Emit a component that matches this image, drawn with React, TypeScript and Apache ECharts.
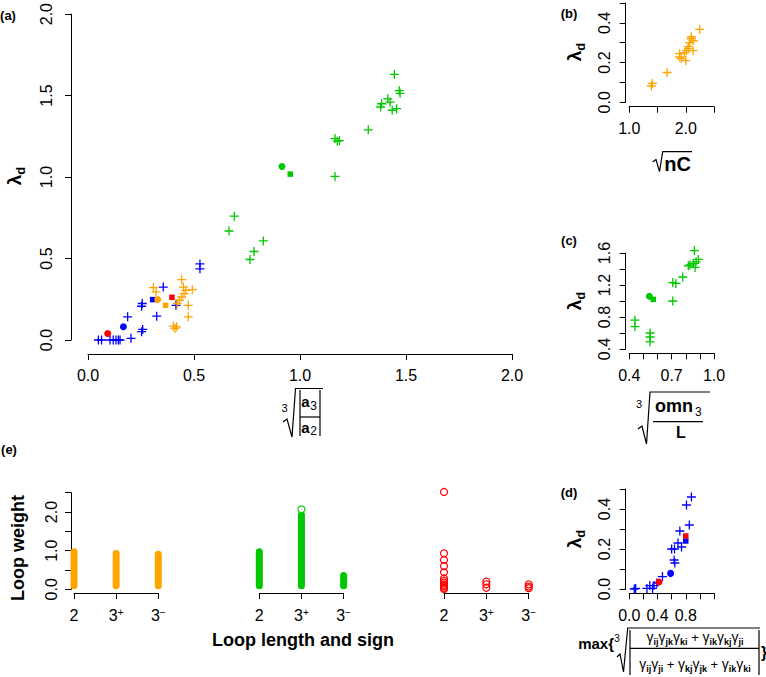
import React, { useEffect, useRef } from 'react';
import * as echarts from 'echarts';

const FONT = '"Liberation Sans", Arial, Helvetica, sans-serif';
const BLUE = '#0000FF';
const RED = '#FF0000';
const ORANGE = '#FFA500';
const GREEN = '#00C800';

// ---------- Panel (a): x = cube root |a3/a2|, y = lambda_d ----------
const aBlueCross: number[][] = [
  [0.528, 0.467], [0.528, 0.437], [0.355, 0.325], [0.256, 0.224], [0.253, 0.207],
  [0.415, 0.213], [0.324, 0.146], [0.187, 0.142], [0.258, 0.065], [0.253, 0.051],
  [0.203, 0.01], [0.049, 0], [0.064, 0], [0.104, 0], [0.119, 0], [0.132, 0],
  [0.143, 0], [0.151, 0],
];
const aBlueCircle = [[0.167, 0.081]];
const aBlueSquare = [[0.305, 0.248]];
const aRedCircle = [[0.093, 0.04]];
const aRedSquare = [[0.396, 0.262]];
const aOrangeCross: number[][] = [
  [0.308, 0.321], [0.321, 0.295], [0.442, 0.37], [0.45, 0.325], [0.462, 0.305],
  [0.492, 0.309], [0.453, 0.285], [0.442, 0.264], [0.431, 0.244], [0.421, 0.224],
  [0.473, 0.213], [0.403, 0.085], [0.418, 0.081], [0.41, 0.071], [0.473, 0.142],
];
const aOrangeCircle = [[0.329, 0.248]];
const aOrangeSquare = [[0.366, 0.213]];
const aGreenCross: number[][] = [
  [1.445, 1.63], [1.468, 1.53], [1.472, 1.514], [1.414, 1.48], [1.425, 1.46],
  [1.385, 1.45], [1.38, 1.43], [1.435, 1.41], [1.456, 1.42], [1.322, 1.29],
  [1.165, 1.236], [1.176, 1.22], [1.186, 1.224], [1.165, 1.004], [0.69, 0.76],
  [0.665, 0.669], [0.827, 0.608], [0.783, 0.543], [0.764, 0.494],
];
const aGreenCircle = [[0.915, 1.065]];
const aGreenSquare = [[0.954, 1.018]];

// ---------- Panel (b): x = sqrt(nC) ----------
const bOrangeCross: number[][] = [
  [2.247, 0.367], [2.1, 0.33], [2.13, 0.31], [2.07, 0.3], [2.04, 0.28], [2.13, 0.26],
  [2.01, 0.26], [1.98, 0.25], [1.89, 0.245], [1.89, 0.228], [1.92, 0.22], [2.0, 0.21],
  [1.67, 0.15], [1.41, 0.095], [1.39, 0.082], [2.1, 0.32], [2.05, 0.27],
];

// ---------- Panel (c): x = cube root omn3/L ----------
const cGreenCross: number[][] = [
  [0.861, 1.63], [0.889, 1.52], [0.873, 1.49], [0.854, 1.47], [0.83, 1.45], [0.818, 1.44],
  [0.866, 1.42], [0.779, 1.3], [0.708, 1.23], [0.73, 1.22], [0.708, 1.0], [0.44, 0.76],
  [0.44, 0.68], [0.547, 0.6], [0.547, 0.55], [0.547, 0.49],
];
const cGreenCircle = [[0.542, 1.06]];
const cGreenSquare = [[0.57, 1.02]];

// ---------- Panel (d): x = max{...} ----------
const dBlueCross: number[][] = [
  [0.88, 0.46], [0.81, 0.42], [0.85, 0.32], [0.716, 0.29], [0.69, 0.23], [0.74, 0.21],
  [0.6, 0.2], [0.64, 0.2], [0.635, 0.145], [0.645, 0.13], [0.47, 0.062], [0.39, 0.03],
  [0.35, 0.017], [0.29, 0.017], [0.33, 0.003], [0.25, 0.003], [0.09, 0.003], [0.07, 0.0],
];
const dBlueCircle = [[0.585, 0.078]];
const dBlueSquare = [[0.8, 0.24]];
const dRedCircle = [[0.42, 0.035]];
const dRedSquare = [[0.8, 0.265]];

// ---------- Panel (e): loop weight by loop length and sign ----------
const eCategories = ['2', '3+', '3-'];
const eOrangeTop = [1.06, 1.02, 1.0];
const eGreenTop = [1.06, 2.02, 0.45];
const eGreenTopCircle = [[2, 2.07]];
const eRed2 = [2.52, 0.93, 0.76, 0.6, 0.44, 0.28, 0.22, 0.17, 0.12, 0.08, 0.04, 0.01];
const eRed3p = [0.2, 0.13, 0.04];
const eRed3m = [0.13, 0.07, 0.03];

// ---------- tick labels ----------
const aTickLabels = [0, 0.5, 1, 1.5, 2];
const bXLabels = [1.0, 2.0];
const bYLabels = [0, 0.2, 0.4];
const cXLabels = [0.4, 0.7, 1.0];
const cYLabels = [0.4, 0.8, 1.2, 1.6];
const dXLabels = [0, 0.4, 0.8];
const dYLabels = [0, 0.2, 0.4];
const eYLabels = [0, 1, 2];

const CROSS = 'path://M0,4.5L9,4.5M4.5,0L4.5,9';

const only = (list: number[]) => (v: number) =>
  list.some((t) => Math.abs(t - v) < 1e-6) ? v.toFixed(1) : '';

const axisBase = {
  type: 'value',
  axisLine: { show: true, onZero: false, lineStyle: { color: '#000', width: 1 } },
  axisTick: { show: true, length: 6, lineStyle: { color: '#000', width: 1 } },
  splitLine: { show: false },
};

function xAx(grid: number, min: number, max: number, interval: number, offset: number, fmt: any, margin = 14) {
  return {
    ...axisBase,
    gridIndex: grid, min, max, interval, position: 'bottom', offset,
    axisLabel: {
      show: true, color: '#000', fontSize: 16, fontFamily: FONT, margin,
      formatter: fmt, showMinLabel: true, showMaxLabel: true,
      rich: { sp: { fontSize: 10, fontFamily: FONT, color: '#000', verticalAlign: 'top' } },
    },
  };
}
function yAx(grid: number, min: number, max: number, interval: number, offset: number, fmt: any, margin = 13, show = true) {
  return {
    ...axisBase,
    show,
    gridIndex: grid, min, max, interval, position: 'left', offset,
    axisLabel: {
      show: true, color: '#000', fontSize: 16, fontFamily: FONT, margin, rotate: 90,
      formatter: fmt, showMinLabel: true, showMaxLabel: true,
    },
  };
}

function sc(idx: number, data: number[][], symbol: string, size: number, color: string) {
  const isCross = symbol === CROSS;
  return {
    type: 'scatter', xAxisIndex: idx, yAxisIndex: idx, data, symbol, symbolSize: size,
    clip: false, silent: true,
    itemStyle: isCross
      ? { color: 'rgba(0,0,0,0)', borderColor: color, borderWidth: 1.3, opacity: 1 }
      : { color, opacity: 1 },
  };
}
function hollow(idx: number, data: number[][], color: string, fill = 'rgba(0,0,0,0)') {
  return {
    type: 'scatter', xAxisIndex: idx, yAxisIndex: idx, data, symbol: 'circle', symbolSize: 7,
    clip: false, silent: true,
    itemStyle: { color: fill, borderColor: color, borderWidth: 1.2, opacity: 1 },
  };
}
function bars(idx: number, tops: number[], color: string) {
  return {
    type: 'bar', xAxisIndex: idx, yAxisIndex: idx, barWidth: 7, silent: true,
    data: tops.map((v, i) => [i + 1, v]),
    itemStyle: { color, borderRadius: 3.5 },
  };
}

const txt = (x: number, y: number, text: string, size: number, bold = false, extra: any = {}, rot = 0) => ({
  type: 'text', x, y, rotation: rot, silent: true,
  style: {
    text, fill: '#000', fontSize: size, fontWeight: bold ? 'bold' : 'normal', fontFamily: FONT,
    align: 'center', verticalAlign: 'middle', ...extra,
  },
});
const ln = (x1: number, y1: number, x2: number, y2: number) => ({
  type: 'line', silent: true, shape: { x1, y1, x2, y2 }, style: { stroke: '#000', lineWidth: 1.2 },
});
const pl = (points: number[][]) => ({
  type: 'polyline', silent: true, shape: { points }, style: { stroke: '#000', fill: 'none', lineWidth: 1.2 },
});
const lambda = (x: number, y: number) => ({
  type: 'text', x, y, rotation: Math.PI / 2, silent: true,
  style: {
    text: '{l|λ}{d|d}', align: 'center', verticalAlign: 'middle',
    rich: {
      l: { fontSize: 19, fontWeight: 'bold', fontFamily: FONT, fill: '#000', lineHeight: 26, verticalAlign: 'middle' },
      d: { fontSize: 13, fontWeight: 'bold', fontFamily: FONT, fill: '#000', verticalAlign: 'bottom' },
    },
  },
});
const gammaRich = {
  g: { fontSize: 14, fontFamily: FONT, fill: '#000', lineHeight: 18, verticalAlign: 'middle' },
  s: { fontSize: 9, fontWeight: 'bold', fontFamily: FONT, fill: '#000', verticalAlign: 'bottom' },
  p: { fontSize: 13, fontFamily: FONT, fill: '#000', verticalAlign: 'middle' },
};
const gm = (a: string) => `{g|γ}{s|${a}}`;

export default function App() {
  const ref = useRef<HTMLDivElement>(null);
  useEffect(() => {
    if (!ref.current) return;
    const chart = echarts.init(ref.current, undefined, { renderer: 'svg' });
    const eFmt = (v: number) => {
      const c = eCategories[Math.round(v) - 1];
      if (!c) return '';
      if (c.length === 1) return c;
      return c[0] + '{sp|' + (c[1] === '+' ? '+' : '\u2212') + '}';
    };
    const option: any = {
      animation: false,
      backgroundColor: '#fff',
      grid: [
        { left: 88, top: 12, width: 424, height: 328 },
        { left: 629.3, top: 2.3, width: 84.7, height: 100 },
        { left: 629.3, top: 253, width: 84.7, height: 96 },
        { left: 629.3, top: 489, width: 84.7, height: 100 },
        { left: 74, top: 492.7, width: 84.3, height: 96.6 },
        { left: 259.3, top: 492.7, width: 84.3, height: 96.6 },
        { left: 444, top: 492.7, width: 84.7, height: 96.6 },
      ],
      xAxis: [
        xAx(0, 0, 2, 0.5, 14, only(aTickLabels), 13),
        xAx(1, 1, 2.5, 0.5, 4.4, only(bXLabels)),
        xAx(2, 0.4, 1.0, 0.1, 4.3, only(cXLabels)),
        xAx(3, 0, 1.2, 0.2, 4.3, only(dXLabels)),
        xAx(4, 1, 3, 1, 3.7, eFmt),
        xAx(5, 1, 3, 1, 3.7, eFmt),
        xAx(6, 1, 3, 1, 3.7, eFmt),
      ],
      yAxis: [
        yAx(0, 0, 2, 0.5, 17, only(aTickLabels), 17),
        yAx(1, 0, 0.5, 0.1, 3.6, only(bYLabels)),
        yAx(2, 0.4, 1.6, 0.2, 3.6, only(cYLabels)),
        yAx(3, 0, 0.5, 0.1, 3.6, only(dYLabels)),
        yAx(4, 0, 2.5, 0.5, 3, only(eYLabels), 12),
        yAx(5, 0, 2.5, 0.5, 0, only(eYLabels), 12, false),
        yAx(6, 0, 2.5, 0.5, 0, only(eYLabels), 12, false),
      ],
      series: [
        // (a)
        sc(0, aBlueCross, CROSS, 9, BLUE),
        sc(0, aOrangeCross, CROSS, 9, ORANGE),
        sc(0, aGreenCross, CROSS, 9, GREEN),
        sc(0, aBlueCircle, 'circle', 7, BLUE),
        sc(0, aBlueSquare, 'rect', 5.5, BLUE),
        sc(0, aOrangeCircle, 'circle', 7, ORANGE),
        sc(0, aOrangeSquare, 'rect', 5.5, ORANGE),
        sc(0, aGreenCircle, 'circle', 7, GREEN),
        sc(0, aGreenSquare, 'rect', 5.5, GREEN),
        sc(0, aRedCircle, 'circle', 7, RED),
        sc(0, aRedSquare, 'rect', 5.5, RED),
        // (b)
        sc(1, bOrangeCross, CROSS, 9, ORANGE),
        // (c)
        sc(2, cGreenCross, CROSS, 9, GREEN),
        sc(2, cGreenCircle, 'circle', 7, GREEN),
        sc(2, cGreenSquare, 'rect', 5.5, GREEN),
        // (d)
        sc(3, dBlueCross, CROSS, 9, BLUE),
        sc(3, dBlueCircle, 'circle', 7, BLUE),
        sc(3, dBlueSquare, 'rect', 5.5, BLUE),
        sc(3, dRedCircle, 'circle', 7, RED),
        sc(3, dRedSquare, 'rect', 5.5, RED),
        // (e)
        bars(4, eOrangeTop, ORANGE),
        bars(5, eGreenTop, GREEN),
        hollow(5, eGreenTopCircle, GREEN, '#fff'),
        hollow(6, eRed2.map((v) => [1, v]), RED),
        hollow(6, eRed3p.map((v) => [2, v]), RED),
        hollow(6, eRed3m.map((v) => [3, v]), RED),
      ],
      graphic: [
        // panel letters
        txt(8, 15, '(a)', 13, true),
        txt(569, 13, '(b)', 13, true),
        txt(569, 240, '(c)', 13, true),
        txt(569, 492, '(d)', 13, true),
        txt(9, 449, '(e)', 13, true),
        // y titles
        lambda(14, 176),
        lambda(574, 52),
        lambda(574, 301),
        lambda(574, 539),
        txt(17.5, 548, 'Loop weight', 18, true, {}, Math.PI / 2),
        txt(303, 640, 'Loop length and sign', 18, true),
        // (a) x title: cube root |a3/a2|
        txt(284.5, 408, '3', 11),
        pl([[283, 422], [287, 419], [292, 437], [295.5, 388.5], [323, 388.5]]),
        ln(300, 390, 300, 436),
        ln(320, 390, 320, 436),
        ln(300, 417, 320, 417),
        txt(305.5, 401.5, 'a', 15, true),
        txt(313.7, 405.5, '3', 12),
        txt(305.5, 427, 'a', 15, true),
        txt(313.7, 431, '2', 12),
        // (b) x title: sqrt(nC)
        pl([[652.7, 162], [656, 159.5], [659.5, 171.7], [662.7, 151.7], [692, 151.7]]),
        txt(677.5, 163.5, 'nC', 20, true),
        // (c) x title: cube root omn3 / L
        txt(639, 403.5, '3', 11),
        pl([[638, 429], [642, 426], [646.5, 444], [650, 392], [710, 392]]),
        txt(674, 405.5, 'omn', 18, true),
        txt(698.3, 411.5, '3', 12),
        ln(653, 421.7, 703, 421.7),
        txt(681, 432, 'L', 16, true),
        // (d) x title
        txt(614, 643, 'max{', 15, true, { align: 'right' }),
        txt(617, 638, '3', 10),
        pl([[617, 657], [620, 654], [623.5, 672], [627.7, 628], [760, 628]]),
        ln(630, 630, 630, 675),
        ln(759, 630, 759, 675),
        ln(630, 648.3, 759, 648.3),
        {
          type: 'text', x: 695, y: 637, silent: true,
          style: {
            text: gm('ij') + gm('jk') + gm('ki') + '{p| + }' + gm('ik') + gm('kj') + gm('ji'),
            align: 'center', verticalAlign: 'middle', rich: gammaRich,
          },
        },
        {
          type: 'text', x: 695, y: 664, silent: true,
          style: {
            text: gm('ij') + gm('ji') + '{p| + }' + gm('kj') + gm('jk') + '{p| + }' + gm('ik') + gm('ki'),
            align: 'center', verticalAlign: 'middle', rich: gammaRich,
          },
        },
        txt(764, 652, '}', 16, true),
      ],
    };
    chart.setOption(option);
    return () => chart.dispose();
  }, []);
  return (
    <div
      ref={ref}
      style={{ position: 'absolute', left: 0, top: 0, width: 766, height: 677, background: '#fff' }}
    />
  );
}
